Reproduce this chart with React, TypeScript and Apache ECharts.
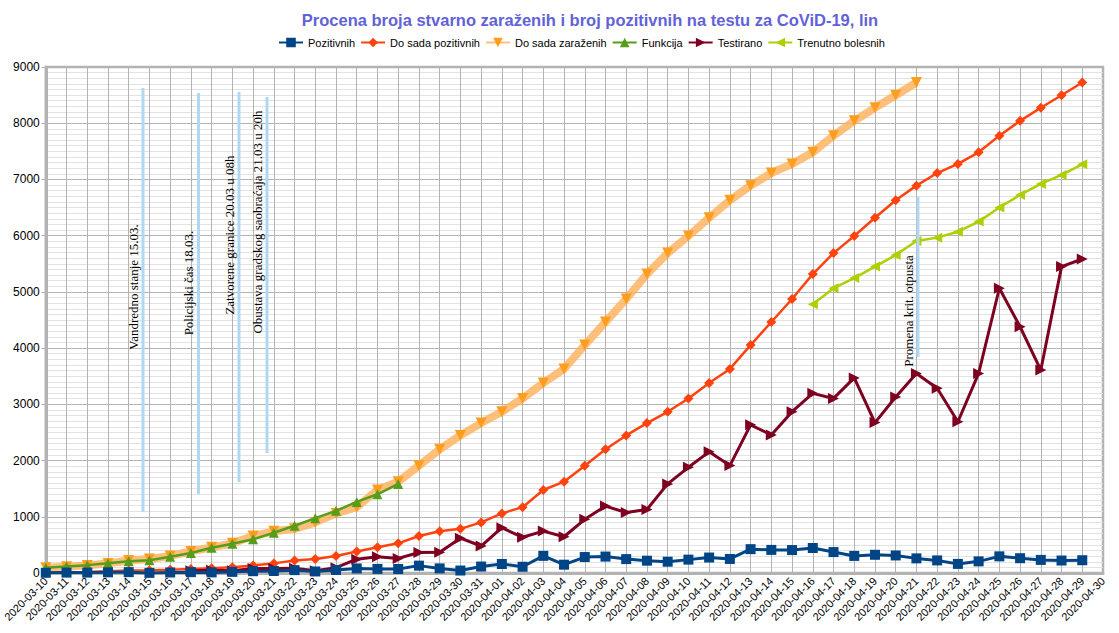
import React, { useEffect, useRef } from "react";
import * as echarts from "echarts";

const dates = [
  "2020-03-10", "2020-03-11", "2020-03-12", "2020-03-13", "2020-03-14", "2020-03-15", "2020-03-16",
  "2020-03-17", "2020-03-18", "2020-03-19", "2020-03-20", "2020-03-21", "2020-03-22", "2020-03-23",
  "2020-03-24", "2020-03-25", "2020-03-26", "2020-03-27", "2020-03-28", "2020-03-29", "2020-03-30",
  "2020-03-31", "2020-04-01", "2020-04-02", "2020-04-03", "2020-04-04", "2020-04-05", "2020-04-06",
  "2020-04-07", "2020-04-08", "2020-04-09", "2020-04-10", "2020-04-11", "2020-04-12", "2020-04-13",
  "2020-04-14", "2020-04-15", "2020-04-16", "2020-04-17", "2020-04-18", "2020-04-19", "2020-04-20",
  "2020-04-21", "2020-04-22", "2020-04-23", "2020-04-24", "2020-04-25", "2020-04-26", "2020-04-27",
  "2020-04-28", "2020-04-29", "2020-04-30",
];

const pozitivnih = [
  4, 7, 7, 12, 15, 2, 9, 15, 11, 20, 32, 36, 51, 27, 54, 81, 73, 71, 131, 82, 44, 115,
  160, 111, 305, 148, 284, 292, 247, 219, 201, 238, 275, 250, 424, 411, 408, 445, 372, 304,
  324, 312, 260, 224, 162, 207, 296, 263, 233, 222, 227, null,
];

const doSadaPozitivnih = [
  5, 12, 19, 31, 46, 48, 57, 72, 83, 103, 135, 171, 222, 249, 303, 384, 457, 528, 659, 741, 785, 900,
  1060, 1171, 1476, 1624, 1908, 2200, 2447, 2666, 2867, 3105, 3380, 3630, 4054, 4465, 4873, 5318,
  5690, 5994, 6318, 6630, 6890, 7114, 7276, 7483, 7779, 8042, 8275, 8497, 8724, null,
];

const doSadaZarazenih = [
  95, 110, 135, 171, 222, 249, 303, 384, 457, 528, 659, 741, 785, 900, 1060, 1171, 1476, 1624,
  1908, 2200, 2447, 2666, 2867, 3105, 3380, 3630, 4054, 4465, 4873, 5318, 5690, 5994, 6318, 6630,
  6890, 7114, 7276, 7483, 7779, 8042, 8275, 8497, 8724,
  null, null, null, null, null, null, null, null, null,
];

const funkcija = [
  95, 115, 140, 175, 210, 225, 290, 355, 450, 520, 600, 715, 840, 975, 1105, 1265, 1400, 1585,
  null, null, null, null, null, null, null, null, null, null, null, null, null, null, null, null,
  null, null, null, null, null, null, null, null, null, null, null, null, null, null, null, null,
  null, null,
];

const testirano = [
  null, null, null, null, null, null, null,
  40, 50, 40, 80, 80, 85, 40, 95, 245, 290, 260, 365, 370, 620, 480,
  805, 635, 745, 645, 955, 1190, 1075, 1130, 1585, 1880, 2155, 1910, 2635, 2455, 2870, 3195,
  3105, 3470, 2675, 3130, 3550, 3285, 2690, 3550, 5065, 4380, 3610, 5450, 5585, null,
];

const trenutnoBolesnih = [
  null, null, null, null, null, null, null, null, null, null, null, null, null, null, null, null,
  null, null, null, null, null, null, null, null, null, null, null, null, null, null, null, null,
  null, null, null, null, null,
  4780, 5065, 5245, 5450, 5655, 5905, 5965, 6070, 6250, 6500, 6725, 6920, 7080, 7270, null,
];

const yMin = 0;
const yMax = 9000;
const yStep = 1000;

const titleText = "Procena broja stvarno zaraženih i broj pozitivnih na testu za CoViD-19, lin";

const annotations = [
  { text: "Vandredno stanje 15.03.", lx: 143, y1: 88, y2: 512, tx: 133, ty: 287 },
  { text: "Policijski čas 18.03.", lx: 198.5, y1: 93, y2: 494, tx: 188, ty: 283 },
  { text: "Zatvorene granice 20.03 u 08h", lx: 239, y1: 92, y2: 482, tx: 229, ty: 235 },
  { text: "Obustava gradskog saobraćaja 21.03 u 20h", lx: 267, y1: 97, y2: 453, tx: 257, ty: 222 },
  { text: "Promena krit. otpusta", lx: 918, y1: 197, y2: 357, tx: 908, ty: 311 },
];

export default function App() {
  const ref = useRef<HTMLDivElement>(null);

  useEffect(() => {
    if (!ref.current) return;
    const chart = echarts.init(ref.current, null, { renderer: "svg" });
    const font = "'Liberation Sans', Arial, sans-serif";

    const graphic: any[] = [];
    annotations.forEach((a) => {
      graphic.push({
        type: "line",
        shape: { x1: a.lx, y1: a.y1, x2: a.lx, y2: a.y2 },
        style: { stroke: "#b0d8f2", lineWidth: 3 },
        z: 5,
      });
      graphic.push({
        type: "text",
        x: a.tx,
        y: a.ty,
        rotation: Math.PI / 2,
        style: {
          text: a.text,
          font: "13px 'Liberation Serif', 'Times New Roman', serif",
          fill: "#000",
          align: "center",
          verticalAlign: "middle",
        },
        z: 6,
      });
    });

    const option: any = {
      animation: false,
      backgroundColor: "#ffffff",
      textStyle: { fontFamily: font },
      title: {
        text: titleText,
        left: 585,
        top: 6,
        textAlign: "center",
        textStyle: { color: "#6262d8", fontSize: 16.5, fontWeight: "bold", fontFamily: font },
      },
      legend: {
        left: 278,
        top: 37,
        padding: 0,
        itemWidth: 24,
        itemHeight: 12,
        itemGap: 5,
        textStyle: { fontSize: 11, color: "#000", fontFamily: font },
        data: ["Pozitivnih", "Do sada pozitivnih", "Do sada zaraženih", "Funkcija", "Testirano", "Trenutno bolesnih"],
      },
      grid: {
        left: 44,
        right: 16,
        top: 67,
        bottom: 60,
        show: true,
        borderColor: "#b3b3b3",
        borderWidth: 2.5,
        backgroundColor: "transparent",
      },
      xAxis: {
        type: "category",
        data: dates,
        boundaryGap: false,
        axisLine: { show: true, lineStyle: { color: "#b3b3b3", width: 3 } },
        axisTick: { show: false },
        axisLabel: {
          interval: 0,
          rotate: 45,
          fontSize: 11,
          color: "#000",
          margin: 6,
          fontFamily: font,
        },
        splitLine: { show: true, interval: 0, lineStyle: { color: "#b3b3b3", width: 1 } },
      },
      yAxis: {
        type: "value",
        min: yMin,
        max: yMax,
        interval: yStep,
        axisLine: { show: true, lineStyle: { color: "#b3b3b3", width: 3 } },
        axisTick: { show: true, length: 4, lineStyle: { color: "#b3b3b3" } },
        axisLabel: {
          fontSize: 12,
          color: "#000",
          margin: 6,
          fontFamily: font,
          formatter: (v: number) => String(v),
        },
        splitLine: { show: true, lineStyle: { color: "#b3b3b3", width: 1 } },
        minorTick: { show: false, splitNumber: 10 },
        minorSplitLine: { show: true, lineStyle: { color: "#e2e2e2", width: 1 } },
      },
      series: [
        {
          name: "Pozitivnih",
          type: "line",
          data: pozitivnih,
          symbol: "rect",
          symbolSize: 10,
          z: 8,
          lineStyle: { color: "#004586", width: 3 },
          itemStyle: { color: "#004586" },
        },
        {
          name: "Do sada pozitivnih",
          type: "line",
          data: doSadaPozitivnih,
          symbol: "diamond",
          symbolSize: 10,
          z: 4,
          lineStyle: { color: "#ff420e", width: 2.5 },
          itemStyle: { color: "#ff420e" },
        },
        {
          name: "Do sada zaraženih",
          type: "line",
          data: doSadaZarazenih,
          symbol: "triangle",
          symbolRotate: 180,
          symbolSize: 11,
          z: 2,
          lineStyle: { color: "rgba(255,176,90,0.8)", width: 8 },
          itemStyle: { color: "#ff9d1e" },
        },
        {
          name: "Funkcija",
          type: "line",
          data: funkcija,
          symbol: "triangle",
          symbolSize: 10,
          z: 3,
          lineStyle: { color: "#579d1c", width: 2.5 },
          itemStyle: { color: "#579d1c" },
        },
        {
          name: "Testirano",
          type: "line",
          data: testirano,
          symbol: "triangle",
          symbolRotate: -90,
          symbolSize: 11,
          z: 5,
          lineStyle: { color: "#7e0021", width: 3 },
          itemStyle: { color: "#7e0021" },
        },
        {
          name: "Trenutno bolesnih",
          type: "line",
          data: trenutnoBolesnih,
          symbol: "triangle",
          symbolRotate: 90,
          symbolSize: 10,
          z: 4,
          lineStyle: { color: "#aecf00", width: 2.5 },
          itemStyle: { color: "#aecf00" },
        },
      ],
      graphic,
    };

    chart.setOption(option);
    return () => chart.dispose();
  }, []);

  return (
    <div
      ref={ref}
      style={{ position: "absolute", left: 0, top: 0, width: 1119, height: 633, background: "#fff" }}
    />
  );
}
